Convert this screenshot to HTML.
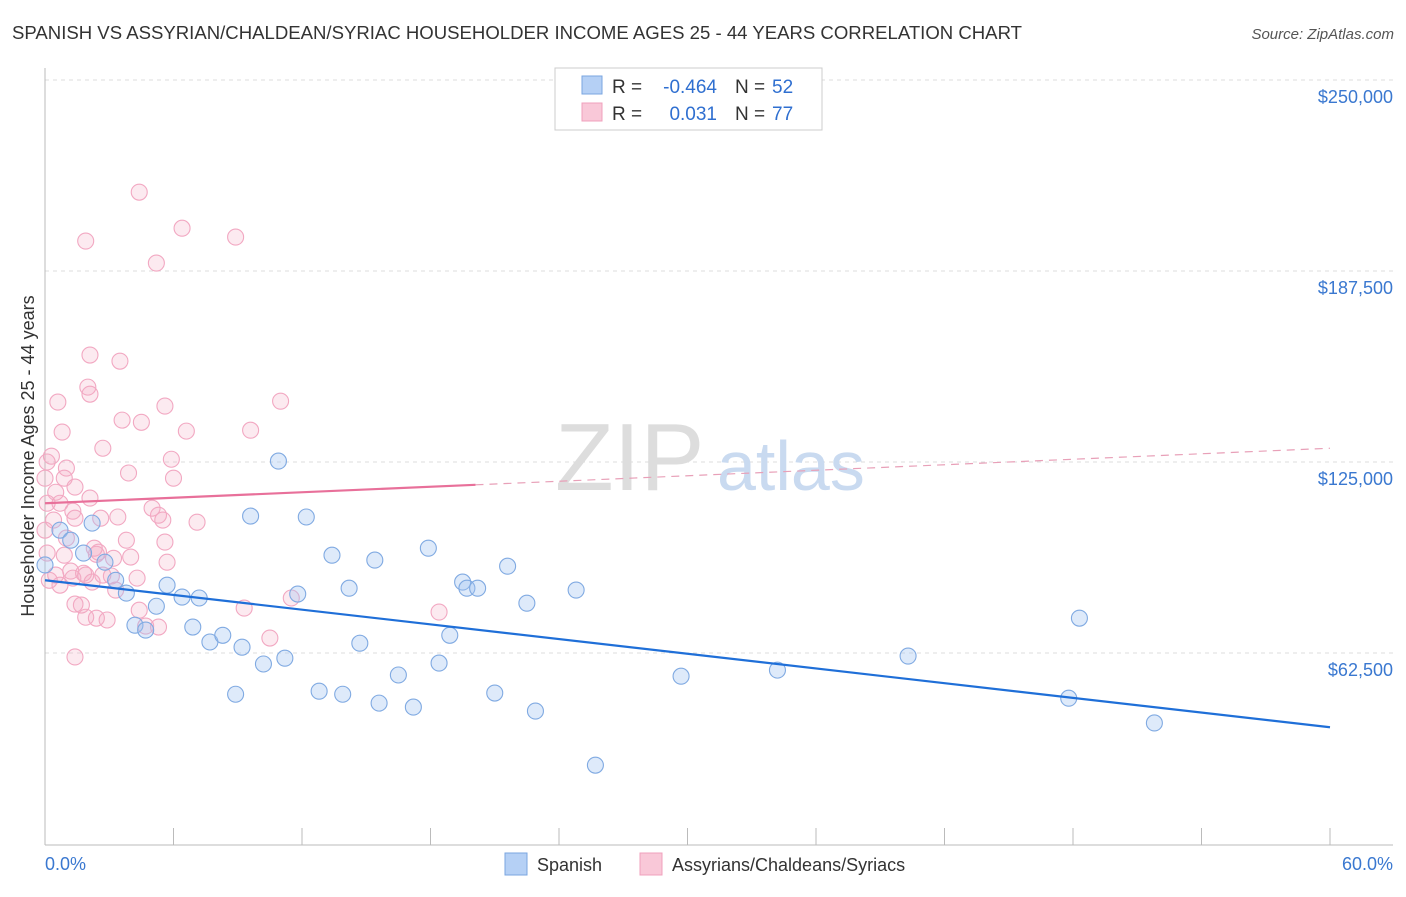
<!DOCTYPE html>
<html><head><meta charset="utf-8"><style>
body{margin:0;background:#fff;font-family:"Liberation Sans",sans-serif;}
svg text{font-family:"Liberation Sans",sans-serif;}
</style></head><body>
<svg id="chart" width="1406" height="892" viewBox="0 0 1406 892" xmlns="http://www.w3.org/2000/svg">
<text x="12" y="39" font-size="18.3" fill="#333" textLength="1010" lengthAdjust="spacingAndGlyphs">SPANISH VS ASSYRIAN/CHALDEAN/SYRIAC HOUSEHOLDER INCOME AGES 25 - 44 YEARS CORRELATION CHART</text>
<text x="1394" y="39" font-size="15" fill="#555" text-anchor="end" font-style="italic">Source: ZipAtlas.com</text>
<g id="grid"></g>
<text x="555" y="490" font-size="96" fill="#ddd" font-family="Liberation Serif, serif">ZIP</text>
<text x="717" y="490" font-size="70" fill="#c9daf0">atlas</text>
<g id="points"></g>
<g id="lines"></g>
<text transform="translate(34,456) rotate(-90)" font-size="18" fill="#333" text-anchor="middle">Householder Income Ages 25 - 44 years</text>
<text x="45" y="870" font-size="18" fill="#3a78d0">0.0%</text>
<text x="1393" y="870" font-size="18" fill="#3a78d0" text-anchor="end">60.0%</text>
<g>
<rect x="555" y="68" width="267" height="62" fill="#fff" stroke="#ccc"/>
<rect x="582" y="76" width="20" height="18" fill="#b5d0f5" stroke="#7aa6e0"/>
<rect x="582" y="103" width="20" height="18" fill="#f9c8d8" stroke="#f0a0bc"/>
<text x="612" y="93" font-size="19" fill="#333">R =</text>
<text x="717" y="93" font-size="19" fill="#2f6fd0" text-anchor="end">-0.464</text>
<text x="735" y="93" font-size="19" fill="#333">N =</text>
<text x="772" y="93" font-size="19" fill="#2f6fd0">52</text>
<text x="612" y="120" font-size="19" fill="#333">R =</text>
<text x="717" y="120" font-size="19" fill="#2f6fd0" text-anchor="end">0.031</text>
<text x="735" y="120" font-size="19" fill="#333">N =</text>
<text x="772" y="120" font-size="19" fill="#2f6fd0">77</text>
</g>
<g>
<rect x="505" y="853" width="22" height="22" fill="#b5d0f5" stroke="#7aa6e0"/>
<text x="537" y="871" font-size="18" fill="#333">Spanish</text>
<rect x="640" y="853" width="22" height="22" fill="#f9c8d8" stroke="#f0a0bc"/>
<text x="672" y="871" font-size="18" fill="#333">Assyrians/Chaldeans/Syriacs</text>
</g>
</svg>
<script>
const yTicks=[62500,125000,187500,250000];
const yTickLabels=["$62,500","$125,000","$187,500","$250,000"];
const xTicks=[0,6,12,18,24,30,36,42,48,54,60];
const spanishX=[0.0,0.7,1.2,2.2,1.8,2.8,3.3,3.8,4.2,4.7,5.2,5.7,6.4,6.9,7.2,7.7,8.3,9.2,8.9,9.6,10.2,11.2,11.8,12.2,12.8,13.4,13.9,14.2,14.7,15.4,15.6,16.5,17.2,17.9,18.4,18.9,19.5,19.7,20.2,21.0,21.6,22.5,22.9,24.8,25.7,29.7,34.2,40.3,47.8,48.3,51.8,10.9];
const spanishY=[91300,102700,99400,105000,95200,92200,86300,82100,71600,70000,77800,84700,80800,71000,80500,66100,68300,64400,49000,107300,58900,60800,81800,107000,50000,94500,49000,83700,65700,92900,46100,55300,44800,96800,59200,68300,85700,83700,83700,49400,90900,78800,43500,83100,25800,54900,56900,61500,47700,73900,39600,125300];
const assyrX=[4.4,1.9,6.4,8.9,5.2,2.1,3.5,2.0,2.1,0.6,5.6,11.0,0.8,3.6,4.5,6.6,9.6,2.7,0.3,0.1,1.0,3.9,5.9,6.0,0.0,0.9,0.5,1.4,2.1,0.1,0.7,1.3,2.6,3.4,5.0,5.3,5.5,7.1,0.4,1.4,0.0,1.0,3.8,5.6,2.5,2.4,4.0,3.2,5.7,0.1,1.2,1.8,0.7,2.2,3.1,4.3,1.4,1.7,4.4,9.3,11.5,18.4,1.9,2.4,2.9,4.7,5.3,10.5,1.4,0.2,0.5,1.9,3.3,1.3,2.7,0.9,2.3];
const assyrY=[213300,197300,201500,198600,190100,160000,158000,149500,147200,144600,143300,144900,134800,138700,138000,135100,135400,129500,126900,125000,123000,121400,125900,119700,119700,119700,115100,116800,113200,111500,111500,108900,106600,107000,109900,107600,106000,105300,106000,106600,102700,100100,99400,98800,95500,94800,93900,93500,92200,95200,89300,88600,84700,85700,87700,87000,78500,78200,76500,77200,80500,75900,74200,73900,73300,71300,71000,67400,61200,86300,88000,88000,83100,87000,88000,94500,96800];
const spanishTrend=[86300,38200];
const assyrTrend=[111500,129500];
const assyrSolidEnd=20.1;

const NS="http://www.w3.org/2000/svg";
const X0=45,X1=1330,YB=844,YPX=191/62500;
function sx(v){return X0+(v/60)*(X1-X0);}
function sy(v){return YB-v*YPX;}
function mk(t,a,p){const e=document.createElementNS(NS,t);for(const k in a)e.setAttribute(k,a[k]);p.appendChild(e);return e;}
const grid=document.getElementById('grid');
yTicks.forEach((v,i)=>{
  const l=mk('line',{x1:45,x2:1393,y1:sy(v),y2:sy(v),stroke:'#ddd','stroke-dasharray':'4,4'},grid);
  
  
  const t=mk('text',{x:1393,y:sy(v)+23,'font-size':18,fill:'#3a78d0','text-anchor':'end'},grid);
  t.textContent=yTickLabels[i];
  
  
});
const ax=mk('line',{x1:45,x2:45,y1:68,y2:845,stroke:'#bbb'},grid);


const bx=mk('line',{x1:45,x2:1393,y1:845,y2:845,stroke:'#bbb'},grid);


xTicks.forEach(v=>{
  const l=mk('line',{x1:sx(v),x2:sx(v),y1:828,y2:845,stroke:'#bbb'},grid);
  
  
});
const pts=document.getElementById('points');
assyrX.forEach((v,i)=>{
  const c=mk('circle',{cx:sx(v),cy:sy(assyrY[i]),r:8,fill:'rgba(245,170,195,0.25)',stroke:'#f2a8c2','stroke-width':1.1},pts);
  
  
});
spanishX.forEach((v,i)=>{
  const c=mk('circle',{cx:sx(v),cy:sy(spanishY[i]),r:8,fill:'rgba(160,196,240,0.35)',stroke:'#80aae2','stroke-width':1.1},pts);
  
  
});
const ln=document.getElementById('lines');
const bl=mk('line',{x1:sx(0),y1:sy(spanishTrend[0]),x2:sx(60),y2:sy(spanishTrend[1]),stroke:'#1f6fd8','stroke-width':2.2},ln);


const midY=assyrTrend[0]+(assyrTrend[1]-assyrTrend[0])*assyrSolidEnd/60;
const pl=mk('line',{x1:sx(0),y1:sy(assyrTrend[0]),x2:sx(assyrSolidEnd),y2:sy(midY),stroke:'#e8709a','stroke-width':2.2},ln);


const pd=mk('line',{x1:sx(assyrSolidEnd),y1:sy(midY),x2:sx(60),y2:sy(assyrTrend[1]),stroke:'#e8a0b8','stroke-width':1.2,'stroke-dasharray':'8,6'},ln);


</script>
</body></html>
